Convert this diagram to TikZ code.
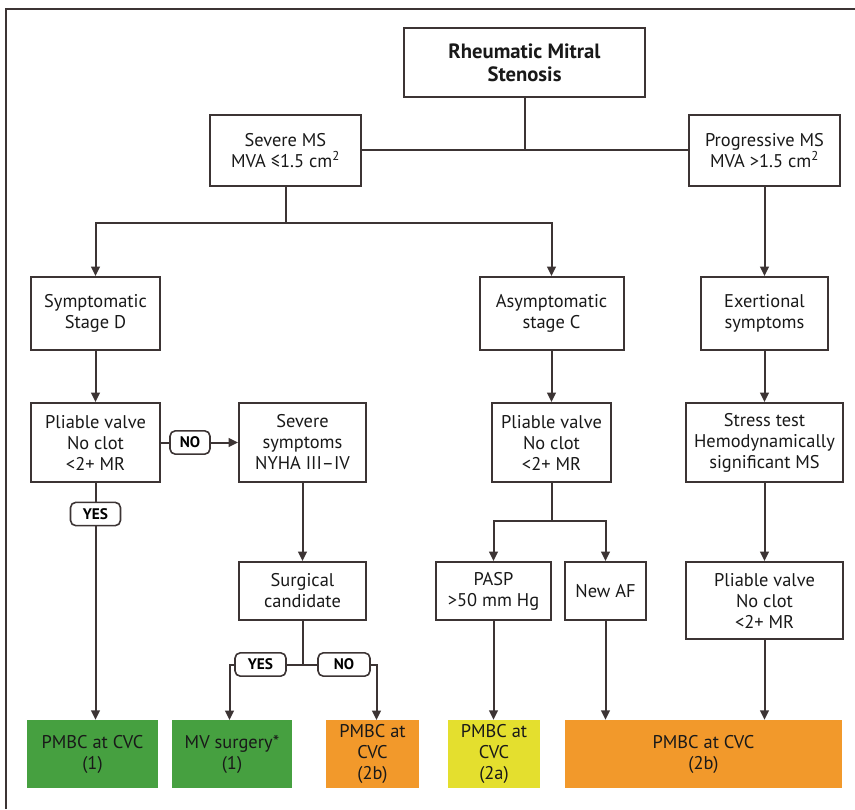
\documentclass[tikz,border=0pt]{standalone}
\usepackage{fontspec}
\setmainfont{PT Sans}
\usetikzlibrary{arrows.meta}
\definecolor{ln}{HTML}{3C3434}
\definecolor{gr}{HTML}{46A040}
\definecolor{orn}{HTML}{F2992B}
\definecolor{yel}{HTML}{E4DF2E}
\begin{document}
\begin{tikzpicture}[x=0.75pt,y=-0.75pt,
  txt/.style={font=\fontsize{13.8}{15.75}\selectfont, text=black!90},
  box/.style={txt, draw=ln, line width=1.5pt, fill=white, align=center, inner sep=0pt},
  res/.style={txt, fill=#1, align=center, inner sep=0pt, minimum height=51pt},
  tag/.style={draw=ln, line width=1.2pt, rounded corners=4pt, fill=white, inner sep=0pt,
    font=\fontsize{11.5}{13}\selectfont\bfseries, minimum height=17.5pt},
  con/.style={draw=ln, line width=1.5pt},
  arr/.style={con, -{Triangle[length=7pt,width=6.5pt]}}
]
\useasboundingbox (0,0) rectangle (855,809);
\draw[ln, line width=2.2pt] (6,809) -- (6,9) -- (855,9);

% boxes
\node[box, minimum width=180.75pt, minimum height=51.75pt, font=\fontsize{15.5}{17.5}\selectfont\bfseries] (title) at (524.5,62.5) {Rheumatic Mitral\\Stenosis};
\node[box, minimum width=113.25pt, minimum height=53.25pt] (sev) at (285.5,150.5) {Severe MS\\MVA ≤1.5 cm\textsuperscript{2}};
\node[box, minimum width=113.25pt, minimum height=53.25pt] (prog) at (764.5,150.5) {Progressive MS\\MVA >1.5 cm\textsuperscript{2}};
\node[box, minimum width=96.75pt, minimum height=54.75pt] (symp) at (95.5,313.5) {Symptomatic\\Stage D};
\node[box, minimum width=108pt, minimum height=54.75pt] (asym) at (551.5,313.5) {Asymptomatic\\stage C};
\node[box, minimum width=95.25pt, minimum height=54.75pt] (exer) at (764.5,313.5) {Exertional\\symptoms};
\node[box, minimum width=96.75pt, minimum height=59.25pt] (pl1) at (95.5,442.5) {Pliable valve\\No clot\\<2+ MR};
\node[box, minimum width=95.25pt, minimum height=59.25pt] (sevsym) at (302.5,442.5) {Severe\\symptoms\\NYHA III–IV};
\node[box, minimum width=89.25pt, minimum height=59.25pt] (pl2) at (551.5,442.5) {Pliable valve\\No clot\\<2+ MR};
\node[box, minimum width=117.75pt, minimum height=59.25pt] (stress) at (764.5,442.5) {Stress test\\Hemodynamically\\significant MS};
\node[box, minimum width=95.25pt, minimum height=43.5pt] (surg) at (302.5,591) {Surgical\\candidate};
\node[box, minimum width=86.25pt, minimum height=43.5pt] (pasp) at (493.5,591) {PASP\\>50 mm Hg};
\node[box, minimum width=60.75pt, minimum height=43.5pt] (newaf) at (605.5,591) {New AF};
\node[box, minimum width=117.75pt, minimum height=57.75pt] (pl3) at (764.5,600.5) {Pliable valve\\No clot\\<2+ MR};

% results
\node[res=gr, minimum width=98.25pt] (r1) at (92.5,754) {PMBC at CVC\\(1)};
\node[res=gr, minimum width=90pt] (r2) at (232,754) {MV surgery*\\(1)};
\node[res=orn, minimum width=69.75pt] (r3) at (372.5,754) {PMBC at\\CVC\\(2b)};
\node[res=yel, minimum width=69pt] (r4) at (494,754) {PMBC at\\CVC\\(2a)};
\node[res=orn, minimum width=207.75pt] (r5) at (703.5,754) {PMBC at CVC\\(2b)};

% tags
\node[tag, minimum width=30pt] (no1) at (190,442.5) {NO};
\node[tag, minimum width=37.5pt] (yes1) at (95.5,514) {YES};
\node[tag, minimum width=38.25pt] (yes2) at (260.5,664.5) {YES};
\node[tag, minimum width=39pt] (no2) at (344,664.5) {NO};

% junction coordinates
\coordinate (j1) at (285.5,222.5);
\coordinate (j2) at (551.5,520.5);
\coordinate (r2t) at (229.5,720);
\coordinate (r3t) at (376.5,720);

% connectors
\draw[con] (title.south) -- (title.south |- sev.east);
\draw[con] (sev.east) -- (prog.west);
\draw[con] (sev.south) -- (j1);
\draw[arr] (j1) -| (symp.north);
\draw[arr] (j1) -| (asym.north);
\draw[arr] (prog.south) -- (exer.north);
\draw[arr] (symp.south) -- (pl1.north);
\draw[arr] (asym.south) -- (pl2.north);
\draw[arr] (exer.south) -- (stress.north);
\draw[con] (pl1.east) -- (no1.west);
\draw[arr] (no1.east) -- (sevsym.west);
\draw[con] (pl1.south) -- (yes1.north);
\draw[arr] (yes1.south) -- (yes1.south |- r1.north);
\draw[arr] (sevsym.south) -- (surg.north);
\draw[con] (surg.south) -- (surg.south |- yes2.east);
\draw[con] (yes2.east) -- (no2.west);
\draw[arr] (yes2.west) -| (r2t);
\draw[arr] (no2.east) -| (r3t);
\draw[con] (pl2.south) -- (j2);
\draw[arr] (j2) -| (pasp.north);
\draw[arr] (j2) -| (newaf.north);
\draw[arr] (pasp.south) -- (pasp.south |- r4.north);
\draw[arr] (newaf.south) -- (newaf.south |- r5.north);
\draw[arr] (stress.south) -- (pl3.north);
\draw[arr] (pl3.south) -- (pl3.south |- r5.north);
\end{tikzpicture}
\end{document}
